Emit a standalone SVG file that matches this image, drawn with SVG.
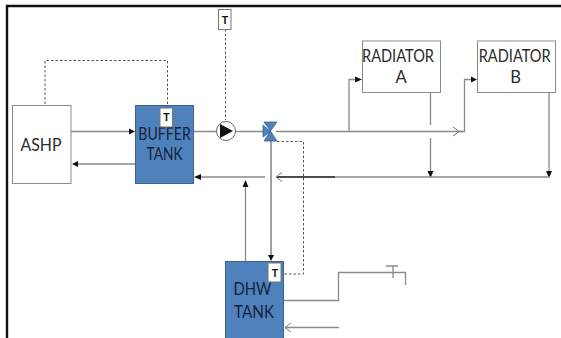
<svg xmlns="http://www.w3.org/2000/svg" width="561" height="338" viewBox="0 0 561 338">
<style>
.l{fill:none;stroke:#8a8a8a;stroke-width:1.3}
.t{fill:none;stroke:#a0a0a0;stroke-width:2}
.k{fill:none;stroke:#111;stroke-width:1.3}
.d{fill:none;stroke:#555;stroke-width:1;stroke-dasharray:2.500 2}
.a{fill:#111}
.o{fill:none;stroke:#777;stroke-width:1}
.b{fill:#fff;stroke:#8a8a8a;stroke-width:1}
.tank{fill:#4f81bd;stroke:#3a6291;stroke-width:1}
.v{fill:#4f81bd;stroke:#3a6291;stroke-width:.8}
.s{fill:#fff;stroke:#777;stroke-width:1}
text{font-family:Lato,"Open Sans",sans-serif;text-anchor:middle;fill:#2a2a2a;font-size:16.500px}
.dk{fill:#14233a;font-size:16.500px}
.tt{font-family:"Liberation Sans",sans-serif;font-size:10.500px;font-weight:bold;fill:#111}
</style>
<rect x="0" y="0" width="561" height="338" fill="#fff"/>
<path d="M7 338V6H561" fill="none" stroke="#111" stroke-width="2.400"/>
<g id="connectors">
<path class="d" d="M45 104V60.500H167.500V105"/>
<path class="d" d="M225.500 29V120"/>
<path class="d" d="M277 141.500H303.500V274H281"/>
<path class="l" d="M71 131.500H130"/><path class="a" d="M129 128.500L135 131.500L129 134.500Z"/>
<path class="l" d="M135 164H78"/><path class="a" d="M72 164L78 161V167Z"/>
<path class="l" d="M194 131.500H216M236 131.500H264M276 131.500H463"/>
<path class="o" d="M453 127L459 131.500L453 136"/>
<path class="l" d="M349 131.500V79.500H356"/><path class="a" d="M355 76.500L362 79.500L355 82.500Z"/>
<path class="l" d="M459 131.500H464.500V79.500H472"/><path class="a" d="M471 76.500L477 79.500L471 82.500Z"/>
<path class="l" d="M430.500 93V125M430.500 138V172"/><path class="a" d="M427.500 171H433.500L430.500 178Z"/>
<path class="l" d="M549 93V172"/><path class="a" d="M546 171H552L549 178Z"/>
<path class="l" d="M549 177H335"/>
<path class="k" d="M335 177H277"/><path class="o" d="M282 172.500L276 177L282 181.500"/>
<path class="l" d="M265 177H201"/><path class="a" d="M194 177L201 174V180Z"/>
<path class="l" d="M245.500 261V187"/><path class="a" d="M245.500 180L242.500 187H248.500Z"/>
<path class="t" d="M271 140V255"/><path class="a" d="M268 255H274L271 261Z"/>
<path class="l" d="M284 300.500H338.500V272.500H405.500V285"/>
<path class="l" d="M386 266H398M393 266V278"/>
<path class="l" d="M339 327.500H285"/><path class="o" d="M291 323L285 327.500L291 332"/>
</g>
<g id="ashp"><rect class="b" x="12.500" y="105.500" width="58.500" height="78"/><text x="41" y="151" textLength="41" lengthAdjust="spacingAndGlyphs">ASHP</text></g>
<g id="buffer-tank"><rect class="tank" x="135.500" y="105.500" width="58" height="78"/><text class="dk" x="164.500" y="140" textLength="52.500" lengthAdjust="spacingAndGlyphs">BUFFER</text><text class="dk" x="164.500" y="160" textLength="36" lengthAdjust="spacingAndGlyphs">TANK</text></g>
<g id="buffer-sensor"><rect class="s" x="160" y="108" width="12.500" height="19"/><text class="tt" x="166.500" y="121">T</text></g>
<g id="top-sensor"><rect class="s" x="218.500" y="9.500" width="12.500" height="20"/><text class="tt" x="225" y="24">T</text></g>
<g id="pump"><circle cx="226" cy="131" r="9.500" fill="#fff" stroke="#666" stroke-width="1"/><path class="a" d="M220 124L233 131L220 138Z"/></g>
<g id="valve"><path class="v" d="M264 122H277L270.500 131ZM264 141H277L270.500 131ZM263 125L270.500 131.500L263 137Z"/></g>
<g id="radiator-a"><rect class="b" x="362.500" y="41" width="78" height="51.500"/><text x="398" y="62" textLength="72" lengthAdjust="spacingAndGlyphs">RADIATOR</text><text x="401" y="83">A</text></g>
<g id="radiator-b"><rect class="b" x="477.500" y="41" width="78" height="51.500"/><text x="514.700" y="62" textLength="72" lengthAdjust="spacingAndGlyphs">RADIATOR</text><text x="515.500" y="83">B</text></g>
<g id="dhw-tank"><rect class="tank" x="225.500" y="261.500" width="58" height="78"/><text class="dk" x="252.500" y="295" textLength="38" lengthAdjust="spacingAndGlyphs">DHW</text><text class="dk" x="254" y="318" textLength="40" lengthAdjust="spacingAndGlyphs">TANK</text></g>
<g id="dhw-sensor"><rect class="s" x="268" y="263" width="13" height="19"/><text class="tt" x="275" y="277">T</text></g>
</svg>
